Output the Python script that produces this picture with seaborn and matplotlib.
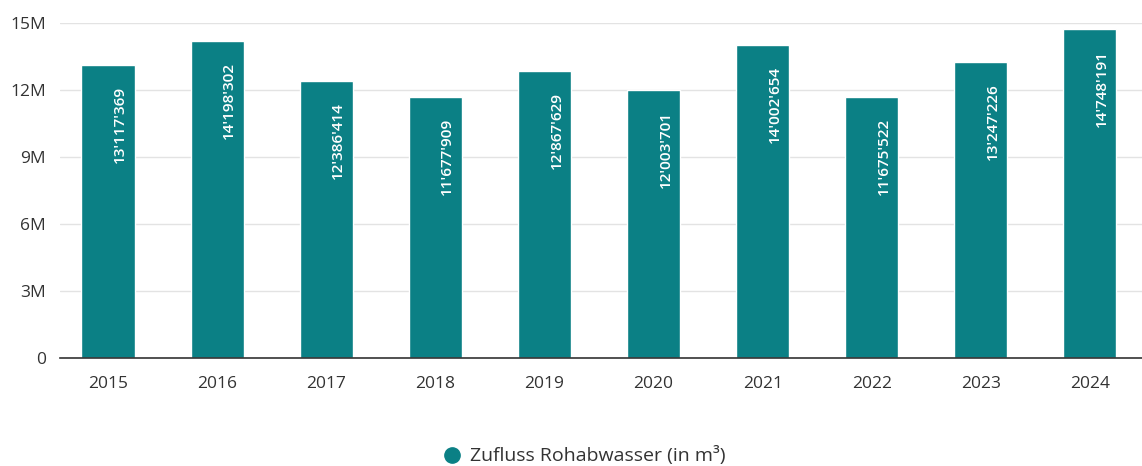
import matplotlib
matplotlib.use("Agg")
import matplotlib.pyplot as plt
import seaborn as sns
import pandas as pd
from matplotlib.lines import Line2D
from matplotlib.ticker import FixedLocator

years = ["2015", "2016", "2017", "2018", "2019", "2020", "2021", "2022", "2023", "2024"]
values = [13117369, 14198302, 12386414, 11677909, 12867629, 12003701, 14002654, 11675522, 13247226, 14748191]
series_name = "Zufluss Rohabwasser (in m³)"
ytick_vals = [0, 3e6, 6e6, 9e6, 12e6, 15e6]
ytick_labels = ["0", "3M", "6M", "9M", "12M", "15M"]

color = "#0b8085"
sns.set_theme(style="white")
plt.rcParams["font.family"] = ["Open Sans", "DejaVu Sans"]

df = pd.DataFrame({"year": years, "value": values})
fig = plt.figure(figsize=(11.42, 4.66), dpi=100)
ax = fig.add_axes([60/1142, 1 - 358/466, 1082/1142, 335/466])
sns.barplot(data=df, x="year", y="value", color=color, width=0.486, ax=ax, saturation=1)

ax.set_ylim(0, 15e6)
ax.set_xlim(-0.44, 9.477)
ax.yaxis.set_major_locator(FixedLocator(ytick_vals))
ax.set_yticklabels(ytick_labels)
ax.grid(axis="y", color="#e3e3e3", linewidth=1)
ax.set_axisbelow(True)
for s in ["top", "right", "left"]:
    ax.spines[s].set_visible(False)
ax.spines["bottom"].set_color("#333333")
ax.spines["bottom"].set_linewidth(1.2)
ax.set_xlabel("")
ax.set_ylabel("")
ax.tick_params(axis="both", length=0, labelsize=12.5, colors="#333333")
ax.tick_params(axis="x", pad=13)
ax.tick_params(axis="y", pad=10)

def fmt(v):
    return f"{v:,}".replace(",", "'")

for i, v in enumerate(values):
    ax.annotate(fmt(v), xy=(i, v), xytext=(12, -21), textcoords="offset pixels",
                rotation=90, ha="center", va="top", color="white", fontsize=11,
                fontweight="semibold")

handle = Line2D([0], [0], marker="o", linestyle="", markersize=11,
                markerfacecolor=color, markeredgecolor=color)
fig.legend([handle], [series_name], loc="center", bbox_to_anchor=(584/1142, 1 - 456/466),
           frameon=False, fontsize=14, handlelength=1.0, handletextpad=0.4,
           labelcolor="#333333")

fig.savefig("out.png", dpi=100)
